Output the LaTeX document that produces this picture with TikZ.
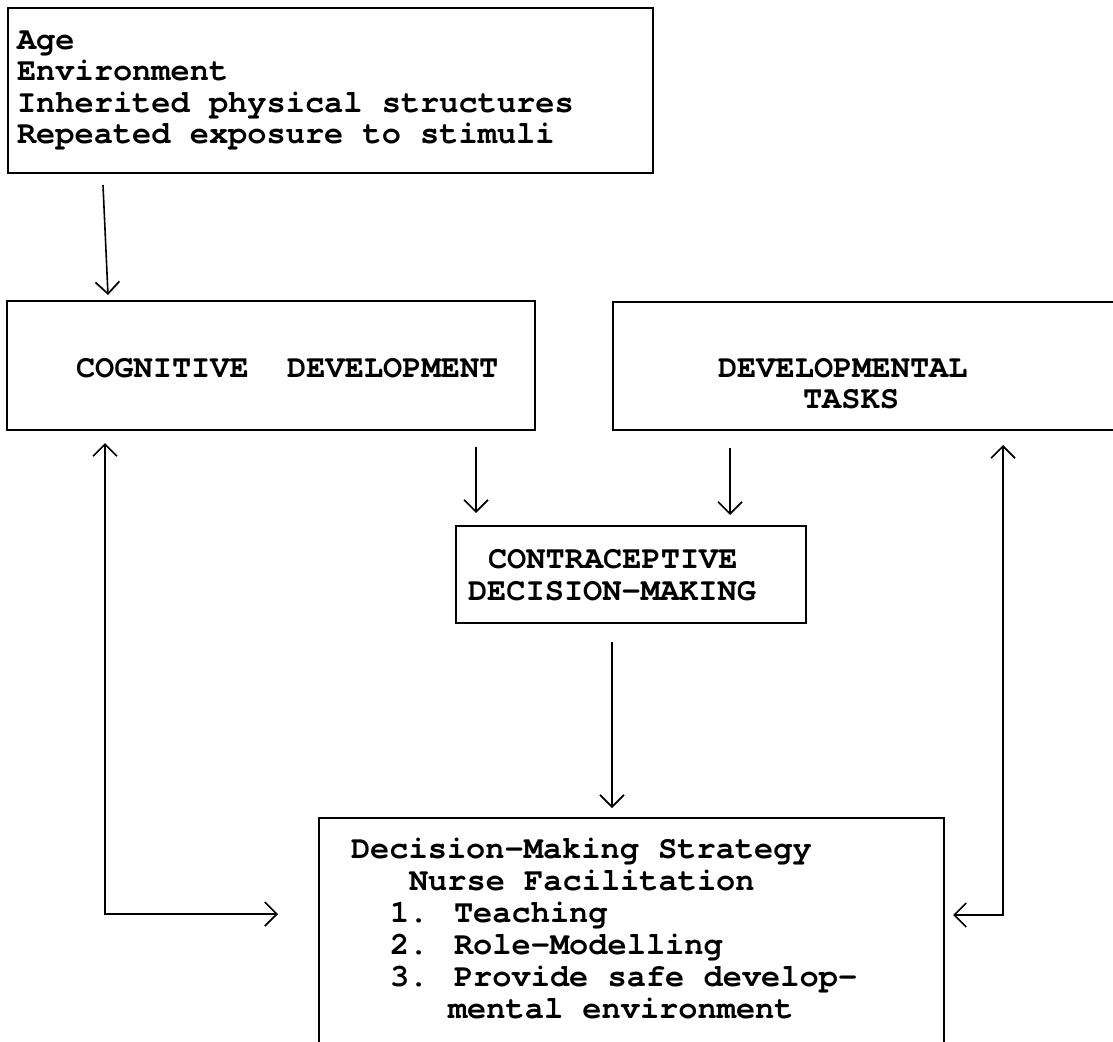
\documentclass[tikz,border=0pt]{standalone}
\usepackage{fontspec}
\setmainfont{texgyrecursor}[Extension=.otf, UprightFont=*-regular, BoldFont=*-bold]
\usetikzlibrary{arrows.meta,calc}
\begin{document}
\begin{tikzpicture}[x=1pt,y=-1pt,
  box/.style={draw,line width=1.8pt,rectangle,inner sep=0pt,outer sep=0pt,anchor=north west},
  txt/.style={anchor=base west,inner sep=0pt,outer sep=0pt,font=\fontsize{32}{32}\selectfont\bfseries},
  barb/.tip={Straight Barb[length=12pt,width=24pt,line width=1.7pt]},
  arr/.style={line width=1.6pt,-barb},
  darr/.style={line width=1.6pt,barb-barb},
]
\clip (0,0) rectangle (1113,1041);
\fill[white] (0,0) rectangle (1113,1041);

% boxes
\node[box,minimum width=645pt,minimum height=165pt] (factors) at (8,8) {};
\node[box,minimum width=528pt,minimum height=129pt] (cog) at (7,301) {};
\node[box,minimum width=520pt,minimum height=128pt] (dt) at (613,302) {};
\node[box,minimum width=350pt,minimum height=97pt] (contra) at (456,526) {};
\node[box,minimum width=625pt,minimum height=260pt] (strat) at (319,818) {};

% texts
\node[txt] (f1) at (17,50) {Age};
\node[txt] (f2) at (17,81) {Environment};
\node[txt] (f3) at (17,112) {Inherited physical structures};
\node[txt] (f4) at (17,143) {Repeated exposure to stimuli};

\node[txt] (cogt) at (76,377) {COGNITIVE\ \ DEVELOPMENT};

\node[txt] (dt1) at (718,377) {DEVELOPMENTAL};
\node[txt] (dt2) at (803,408) {TASKS};

\node[txt] (c1) at (488,568) {CONTRACEPTIVE};
\node[txt] (c2) at (468,600) {DECISION-MAKING};

\node[txt] (s1) at (351,858) {Decision-Making Strategy};
\node[txt] (s2) at (409,890) {Nurse Facilitation};
\node[txt] (s3) at (390,922) {1. Teaching};
\node[txt] (s4) at (390,954) {2. Role-Modelling};
\node[txt] (s5) at (390,986) {3. Provide safe develop-};
\node[txt] (s6) at (448,1018) {mental environment};

% connector end points
\coordinate (a1s) at (103,185);
\coordinate (a1e) at (108,295);
\coordinate (a2s) at (476,447);
\coordinate (a2e) at (476,513);
\coordinate (a3s) at (730,448);
\coordinate (a3e) at (730,515);
\coordinate (a4s) at (612,642);
\coordinate (a4e) at (612,808);
\coordinate (lt) at (105,443);
\coordinate (lc) at (105,914);
\coordinate (le) at (278,914);
\coordinate (rt) at (1003,445);
\coordinate (rc) at (1003,915);
\coordinate (re) at (953,915);

\draw[arr] (a1s) -- (a1e);
\draw[arr] (a2s) -- (a2e);
\draw[arr] (a3s) -- (a3e);
\draw[arr] (a4s) -- (a4e);
\draw[darr] (lt) -- (lc) -- (le);
\draw[darr] (rt) -- (rc) -- (re);
\end{tikzpicture}
\end{document}
